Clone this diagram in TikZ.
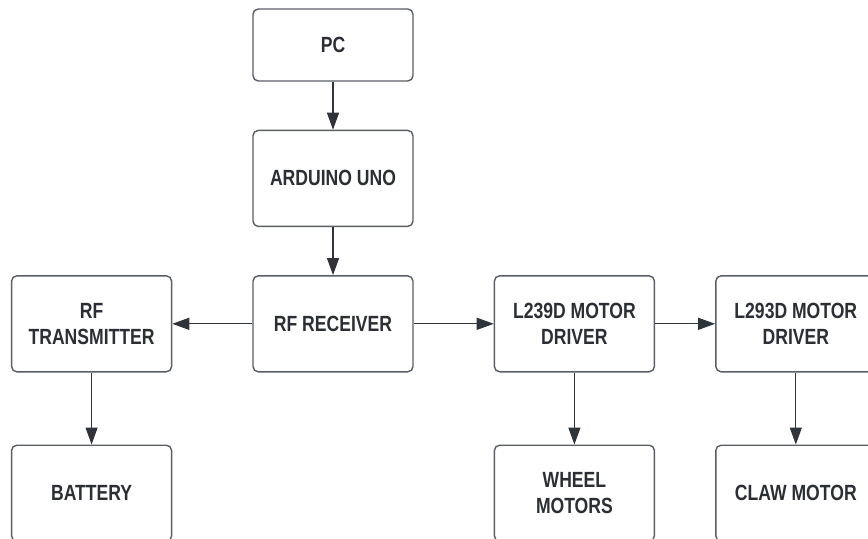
\documentclass[tikz,border=0pt]{standalone}
\usepackage{fontspec}
\setmainfont{Liberation Sans}[FakeStretch=0.8]
\usepackage{tikz}
\usetikzlibrary{arrows.meta,positioning}
\definecolor{linedark}{HTML}{2F343A}
\definecolor{boxgray}{HTML}{5A5F66}
\definecolor{textdark}{HTML}{2B2F35}

\begin{document}
\begin{tikzpicture}[
  node distance=0.96cm and 1.6cm,
  every node/.style={font=\fontsize{12.5}{15}\selectfont\bfseries,align=center,text=textdark},
  blocknode/.style={draw=boxgray,line width=0.8pt,rounded corners=3pt,fill=white,minimum width=3.2cm,minimum height=1.92cm,inner sep=2pt},
  arrow/.style={-{Triangle[length=3.4mm,width=2.4mm]},line width=0.7pt,draw=linedark}
]
\path[use as bounding box,fill=white] (0,0) rectangle (17.36,-10.78);

\node[blocknode,minimum height=1.44cm] (pc) at (6.66,-0.9) {PC};
\node[blocknode,below=of pc] (arduino) {ARDUINO UNO};
\node[blocknode,below=of arduino] (receiver) {RF RECEIVER};
\node[blocknode,left=of receiver] (transmitter) {RF\\TRANSMITTER};
\node[blocknode,right=of receiver] (wheeldriver) {L239D MOTOR\\DRIVER};
\node[blocknode,right=1.2cm of wheeldriver] (clawdriver) {L293D MOTOR\\DRIVER};

\node[blocknode,below=1.44cm of transmitter] (battery) {BATTERY};
\node[blocknode,below=1.44cm of wheeldriver] (wheels) {WHEEL\\MOTORS};
\node[blocknode,below=1.44cm of clawdriver] (claw) {CLAW MOTOR};

\draw[arrow] (pc) -- (arduino);
\draw[arrow] (arduino) -- (receiver);
\draw[arrow] (receiver) -- (transmitter);
\draw[arrow] (receiver) -- (wheeldriver);
\draw[arrow] (wheeldriver) -- (clawdriver);
\draw[arrow] (transmitter) -- (battery);
\draw[arrow] (wheeldriver) -- (wheels);
\draw[arrow] (clawdriver) -- (claw);
\end{tikzpicture}
\end{document}
